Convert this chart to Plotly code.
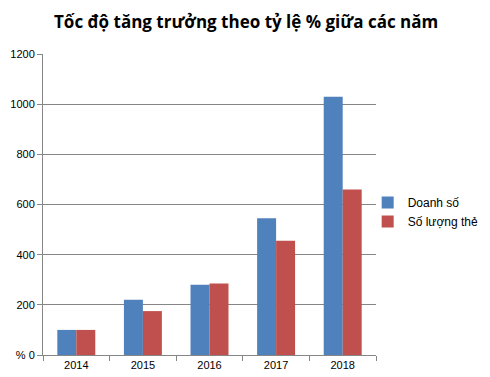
import plotly.graph_objects as go

years = ["2014", "2015", "2016", "2017", "2018"]
doanh_so = [100, 220, 280, 545, 1030]
so_luong_the = [100, 175, 285, 455, 660]
y_ticks = [0, 200, 400, 600, 800, 1000, 1200]
y_tick_text = ["% 0", "200", "400", "600", "800", "1000", "1200"]

font_family = "Liberation Sans, Arial, sans-serif"

fig = go.Figure()
fig.add_trace(go.Bar(x=years, y=doanh_so, name="Doanh số",
                     marker=dict(color="#4F81BD", line=dict(width=0))))
fig.add_trace(go.Bar(x=years, y=so_luong_the, name="Số lượng thẻ",
                     marker=dict(color="#C0504D", line=dict(width=0))))

# page body has an 8px margin, so the figure is sized 8px smaller
fig.update_layout(
    width=482, height=369,
    margin=dict(l=35, r=114, t=46, b=22, autoexpand=False),
    paper_bgcolor="white", plot_bgcolor="white",
    barmode="group", bargap=0.43, bargroupgap=0,
    title=dict(text="<b>Tốc độ tăng trưởng theo tỷ lệ % giữa các năm</b>",
               x=0.494, xanchor="center", y=0.962, yanchor="middle",
               font=dict(family="Open Sans, sans-serif", size=17, color="#000000")),
    font=dict(family=font_family, size=11, color="#000000"),
    legend=dict(x=0.975, y=0.555, xanchor="left", yanchor="top",
                font=dict(family=font_family, size=12, color="#000000"),
                bgcolor="rgba(0,0,0,0)", tracegroupgap=0, itemwidth=30),
    showlegend=True,
)
fig.update_xaxes(type="category", tickson="boundaries", ticks="outside", ticklen=5,
                 tickcolor="#868686", showline=True, linecolor="#868686", linewidth=1,
                 showgrid=False, tickfont=dict(size=11), automargin=False)
fig.update_yaxes(range=[0, 1200], tickvals=y_ticks, ticktext=y_tick_text,
                 ticks="outside", ticklen=5, tickcolor="#868686",
                 showline=True, linecolor="#868686", linewidth=1,
                 showgrid=True, gridcolor="#868686", gridwidth=1,
                 zeroline=False, tickfont=dict(size=11), automargin=False)

fig.write_html("out.html")
